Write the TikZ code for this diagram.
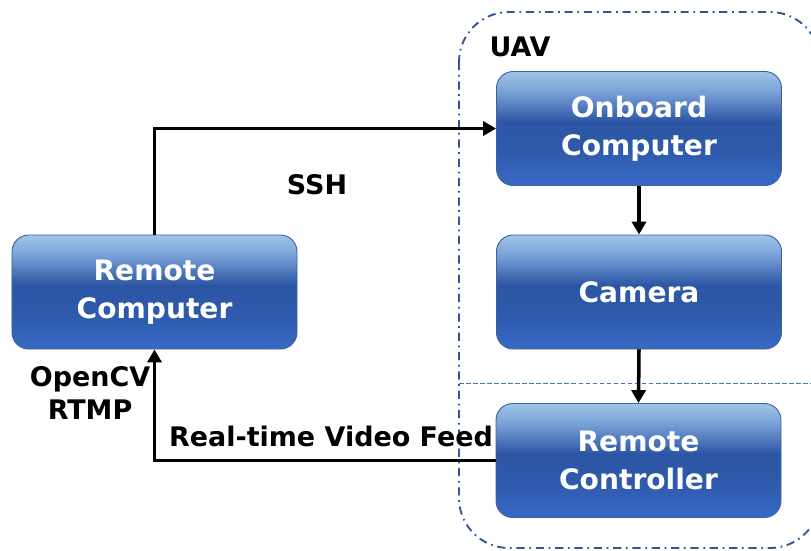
\documentclass[tikz,border=0pt]{standalone}
\usepackage{fontspec}
\setmainfont{DejaVu Sans}
\usetikzlibrary{arrows.meta}
\definecolor{boxtop}{RGB}{160,197,232}
\definecolor{boxupper}{RGB}{120,160,215}
\definecolor{boxmid}{RGB}{44,86,164}
\definecolor{boxbot}{RGB}{56,106,198}
\definecolor{boxline}{RGB}{62,98,160}
\definecolor{groupline}{RGB}{47,85,151}
\definecolor{splitline}{RGB}{68,114,196}
% vertical gradient: light top, dark band just above the middle, brighter blue bottom
\pgfdeclareverticalshading{blockshade}{100bp}{
  color(0bp)=(boxbot); color(25bp)=(boxbot); color(40bp)=(boxmid!80!boxbot);
  color(53bp)=(boxmid); color(66bp)=(boxupper); color(75bp)=(boxtop); color(100bp)=(boxtop)}
\tikzset{
  block/.style={rounded corners=0.5cm, draw=boxline, line width=0.8pt,
    shading=blockshade, minimum width=8.55cm, minimum height=3.42cm, align=center,
    text=white, font=\bfseries\fontsize{24}{32}\selectfont, inner sep=0pt},
  link/.style={line width=3pt, -{Triangle[length=11pt,width=12pt]}},
  tag/.style={font=\bfseries\fontsize{23}{28}\selectfont, align=center, inner sep=0pt}
}
\begin{document}
\begin{tikzpicture}[x=0.03cm, y=-0.03cm]
\useasboundingbox (0,0) rectangle (811,550);
\clip (0,0) rectangle (811,550);

% UAV group outline and split line
\draw[groupline, line width=1.6pt, rounded corners=1.5cm,
  dash pattern=on 7pt off 4pt on 1.5pt off 4pt] (459,12) rectangle (820,548);
\draw[splitline, line width=0.7pt, dash pattern=on 4pt off 2pt] (459,383) -- (811,383);

% Blocks
\node[block] (rc)  at (154.5,292) {Remote\\Computer};
\node[block] (ob)  at (639,128.5) {Onboard\\Computer};
\node[block] (cam) at (639,292) {Camera};
\node[block] (ctl) at (638.5,460.5) {Remote\\Controller};

% Connectors
\draw[link] (rc.north) |- (ob.west);
\draw[link] (ob.south) -- (cam.north);
\draw[link] (cam.south) -- (ctl.north);
\draw[link] (ctl.west) -| (rc.south);

% Labels
\node[tag] (uav) at (520,47) {UAV};
\node[tag] (ssh) at (317,185) {SSH};
\node[tag] (cv)  at (90,393) {OpenCV\\RTMP};
\node[tag] (feed) at (331,436) {Real-time Video Feed};
\end{tikzpicture}
\end{document}
